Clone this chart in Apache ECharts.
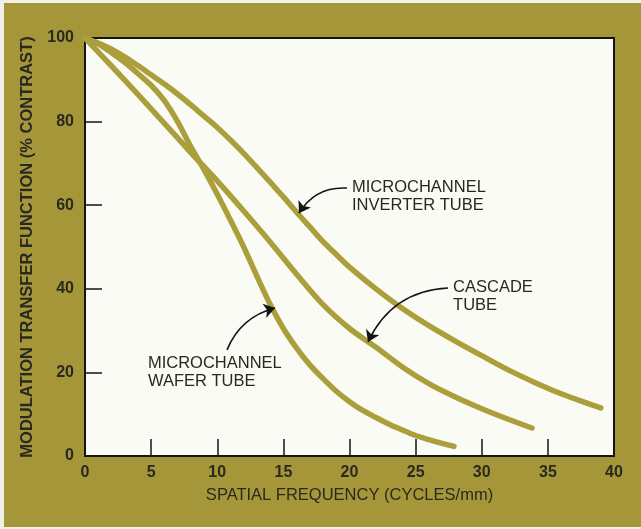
<!DOCTYPE html>
<html>
<head>
<meta charset="utf-8">
<script src="https://cdn.jsdelivr.net/npm/echarts@6/dist/echarts.min.js"></script>
<style>
  html, body { margin: 0; padding: 0; background: #f1f0e8; width: 641px; height: 529px; overflow: hidden; }
  #c { position: absolute; left: 4px; top: 3px; width: 637px; height: 524px; }
</style>
</head>
<body>
<div id="c"></div>
<script>
// ---- data ----
const inverterFreq = [0,1,2,3,4,5,6,7,8,9,10,11,12,13,14,15,16,17,18,19,20,22,24,26,28,30,32,34,36,38,39];
const inverterMtf  = [100,98.8,97.3,95.5,93.4,91.2,89,86.6,84,81.3,78.6,75.6,72.4,69,65.5,62,58.3,54.8,51.3,48.2,45.2,40,35.3,31.2,27.5,24,20.6,17.6,14.9,12.6,11.5];

const cascadeFreq = [0,2,4,6,8,10,12,14,16,18,20,22,24,26,28,30,32,33.8];
const cascadeMtf  = [100,93.3,86.5,79.6,72.6,65.8,58.6,51.2,43.5,36.2,30.5,26,21.3,17.3,14.1,11.3,8.8,6.7];

const waferFreq = [0,1,2,3,4,5,6,7,8,9,10,11,12,13,14,15,16,17,18,19,20,21,22,23,24,25,26,27,27.9];
const waferMtf  = [100,98.6,96.5,94.2,91.5,88.7,85,80,74,68.5,62.6,56.4,50,43,36.3,30.5,25.8,21.8,18.5,15.5,13,10.9,9.2,7.6,6.2,4.9,3.9,3.0,2.3];

const xTicks = [0,5,10,15,20,25,30,35,40];
const yTicks = [0,20,40,60,80,100];

const seriesNames = ['MICROCHANNEL\nINVERTER TUBE', 'CASCADE\nTUBE', 'MICROCHANNEL\nWAFER TUBE'];
// annotation text anchors (data coords: top-left of text)
const labelAnchors = [[20.19, 66.5], [27.83, 42.6], [4.76, 24.4]];
// arrow from/to (data coords)
const arrowFrom = [[19.81, 64.1], [27.45, 40.2], [10.74, 25.4]];
const arrowTo   = [[16.18, 58.1], [21.4, 27.3], [14.37, 35.4]];
const arrowBend = [-0.3, -0.3, 0.25];

// ---- chart ----
const pairs = (xs, ys) => xs.map((x, i) => [x, ys[i]]);
const curveColor = '#ab9f3c';
const textColor = '#2a2920';
const boldFont = "'Liberation Sans', Arial, sans-serif";
const textFont = "'Liberation Sans', Arial, sans-serif";

const datasets = [pairs(inverterFreq, inverterMtf), pairs(cascadeFreq, cascadeMtf), pairs(waferFreq, waferMtf)];

const chart = echarts.init(document.getElementById('c'), null, { renderer: 'canvas' });

const series = datasets.map((d, i) => ({
  type: 'line',
  data: d,
  smooth: 0.3,
  showSymbol: false,
  symbol: 'none',
  silent: true,
  z: 2,
  lineStyle: { color: curveColor, width: 5.5, cap: 'round', join: 'round' },
  markPoint: {
    silent: true,
    symbol: 'circle',
    symbolSize: 0,
    data: [{ coord: labelAnchors[i] }],
    label: {
      show: true,
      formatter: seriesNames[i],
      position: [0, 0],
      align: 'left',
      verticalAlign: 'top',
      color: textColor,
      fontFamily: textFont,
      fontSize: 16.5,
      lineHeight: 18.5
    }
  }
}));

// arrows
arrowFrom.forEach((f, i) => {
  series.push({
    type: 'lines',
    coordinateSystem: 'cartesian2d',
    silent: true,
    z: 5,
    symbol: ['none', 'arrow'],
    symbolSize: 11,
    lineStyle: { color: '#141414', width: 1.6, opacity: 1, curveness: arrowBend[i] },
    data: [{ coords: [f, arrowTo[i]] }]
  });
});

chart.setOption({
  backgroundColor: '#a59739',
  animation: false,
  grid: {
    left: 81, right: 27, top: 35, bottom: 71,
    show: true,
    backgroundColor: '#fbfbf6',
    borderColor: '#141414',
    borderWidth: 2
  },
  xAxis: {
    type: 'value',
    min: xTicks[0], max: xTicks[xTicks.length - 1], interval: 5,
    name: 'SPATIAL FREQUENCY (CYCLES/mm)',
    nameLocation: 'middle',
    nameGap: 31,
    nameTextStyle: { color: textColor, fontFamily: textFont, fontSize: 16.5 },
    axisLine: { show: true, lineStyle: { color: '#141414', width: 2 } },
    axisTick: { show: true, inside: true, length: 17, lineStyle: { color: '#141414', width: 1.5 } },
    axisLabel: { color: textColor, fontFamily: boldFont, fontWeight: 'bold', fontSize: 16, margin: 9 },
    splitLine: { show: false }
  },
  yAxis: {
    type: 'value',
    min: yTicks[0], max: yTicks[yTicks.length - 1], interval: 20,
    name: 'MODULATION TRANSFER FUNCTION (% CONTRAST)',
    nameLocation: 'middle',
    nameGap: 45,
    nameTextStyle: { color: textColor, fontFamily: boldFont, fontWeight: 'bold', fontSize: 16.5 },
    axisLine: { show: true, lineStyle: { color: '#141414', width: 2 } },
    axisTick: { show: true, inside: true, length: 17, lineStyle: { color: '#141414', width: 1.5 } },
    axisLabel: { color: textColor, fontFamily: boldFont, fontWeight: 'bold', fontSize: 16, margin: 11 },
    splitLine: { show: false }
  },
  series: series
});
</script>
</body>
</html>
